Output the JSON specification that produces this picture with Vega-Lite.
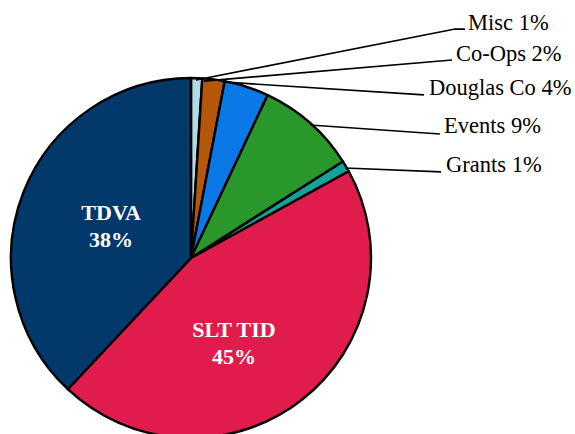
{
  "$schema": "https://vega.github.io/schema/vega-lite/v6.json",
  "width": 575,
  "height": 434,
  "autosize": {"type": "none"},
  "padding": 0,
  "background": "white",
  "config": {"view": {"stroke": null}},
  "datasets": {
    "slices": [
      {"i": 1, "category": "Misc", "value": 1},
      {"i": 2, "category": "Co-Ops", "value": 2},
      {"i": 3, "category": "Douglas Co", "value": 4},
      {"i": 4, "category": "Events", "value": 9},
      {"i": 5, "category": "Grants", "value": 1},
      {"i": 6, "category": "SLT TID", "value": 45},
      {"i": 7, "category": "TDVA", "value": 38}
    ],
    "leaders": [
      {"category": "Misc", "k": 1, "lx": 0.028, "ly": 0.989},
      {"category": "Misc", "k": 2, "lx": 1.467, "ly": 1.272},
      {"category": "Misc", "k": 3, "lx": 1.522, "ly": 1.272},
      {"category": "Co-Ops", "k": 1, "lx": 0.072, "ly": 0.983},
      {"category": "Co-Ops", "k": 2, "lx": 1.45, "ly": 1.1},
      {"category": "Douglas Co", "k": 1, "lx": 0.172, "ly": 0.978},
      {"category": "Douglas Co", "k": 2, "lx": 1.294, "ly": 0.906},
      {"category": "Events", "k": 1, "lx": 0.661, "ly": 0.739},
      {"category": "Events", "k": 2, "lx": 1.383, "ly": 0.689},
      {"category": "Grants", "k": 1, "lx": 0.856, "ly": 0.5},
      {"category": "Grants", "k": 2, "lx": 1.389, "ly": 0.478}
    ],
    "outside": [
      {"label": "Misc 1%", "tx": 1.539, "ty": 1.267},
      {"label": "Co-Ops 2%", "tx": 1.472, "ty": 1.094},
      {"label": "Douglas Co 4%", "tx": 1.322, "ty": 0.906},
      {"label": "Events 9%", "tx": 1.406, "ty": 0.694},
      {"label": "Grants 1%", "tx": 1.417, "ty": 0.478}
    ],
    "inside": [
      {"label": "TDVA\n38%", "tx": -0.444, "ty": 0.25},
      {"label": "SLT TID\n45%", "tx": 0.239, "ty": -0.4}
    ]
  },
  "resolve": {"scale": {"x": "shared", "y": "shared"}},
  "layer": [
    {
      "data": {"name": "slices"},
      "mark": {"type": "arc", "outerRadius": 180, "stroke": "black", "strokeWidth": 2.4, "strokeJoin": "round"},
      "encoding": {
        "x": {"datum": 0, "type": "quantitative", "scale": {"domain": [-1.06111, 2.13333], "nice": false, "zero": false}, "axis": null},
        "y": {"datum": 0, "type": "quantitative", "scale": {"domain": [-0.97778, 1.43333], "nice": false, "zero": false}, "axis": null},
        "theta": {"field": "value", "type": "quantitative", "stack": true},
        "order": {"field": "i", "type": "quantitative"},
        "color": {
          "field": "category", "type": "nominal", "legend": null,
          "scale": {
            "domain": ["Misc", "Co-Ops", "Douglas Co", "Events", "Grants", "SLT TID", "TDVA"],
            "range": ["#b3d9e6", "#b5570b", "#0b78e8", "#2a972a", "#14a39b", "#df1c4b", "#02386a"]
          }
        }
      }
    },
    {
      "data": {"name": "leaders"},
      "mark": {"type": "line", "color": "black", "strokeWidth": 1.7},
      "encoding": {
        "x": {"field": "lx", "type": "quantitative", "axis": null},
        "y": {"field": "ly", "type": "quantitative", "axis": null},
        "detail": {"field": "category"},
        "order": {"field": "k", "type": "quantitative"}
      }
    },
    {
      "data": {"name": "outside"},
      "mark": {"type": "text", "align": "left", "baseline": "alphabetic", "font": "Liberation Serif", "fontSize": 22.5, "color": "black"},
      "encoding": {
        "x": {"field": "tx", "type": "quantitative", "axis": null},
        "y": {"field": "ty", "type": "quantitative", "axis": null},
        "text": {"field": "label"}
      }
    },
    {
      "data": {"name": "inside"},
      "mark": {"type": "text", "align": "center", "baseline": "middle", "font": "Liberation Serif", "fontWeight": "bold", "fontSize": 22, "lineHeight": 27, "lineBreak": "\n", "color": "white"},
      "encoding": {
        "x": {"field": "tx", "type": "quantitative", "axis": null},
        "y": {"field": "ty", "type": "quantitative", "axis": null},
        "text": {"field": "label"}
      }
    }
  ]
}
